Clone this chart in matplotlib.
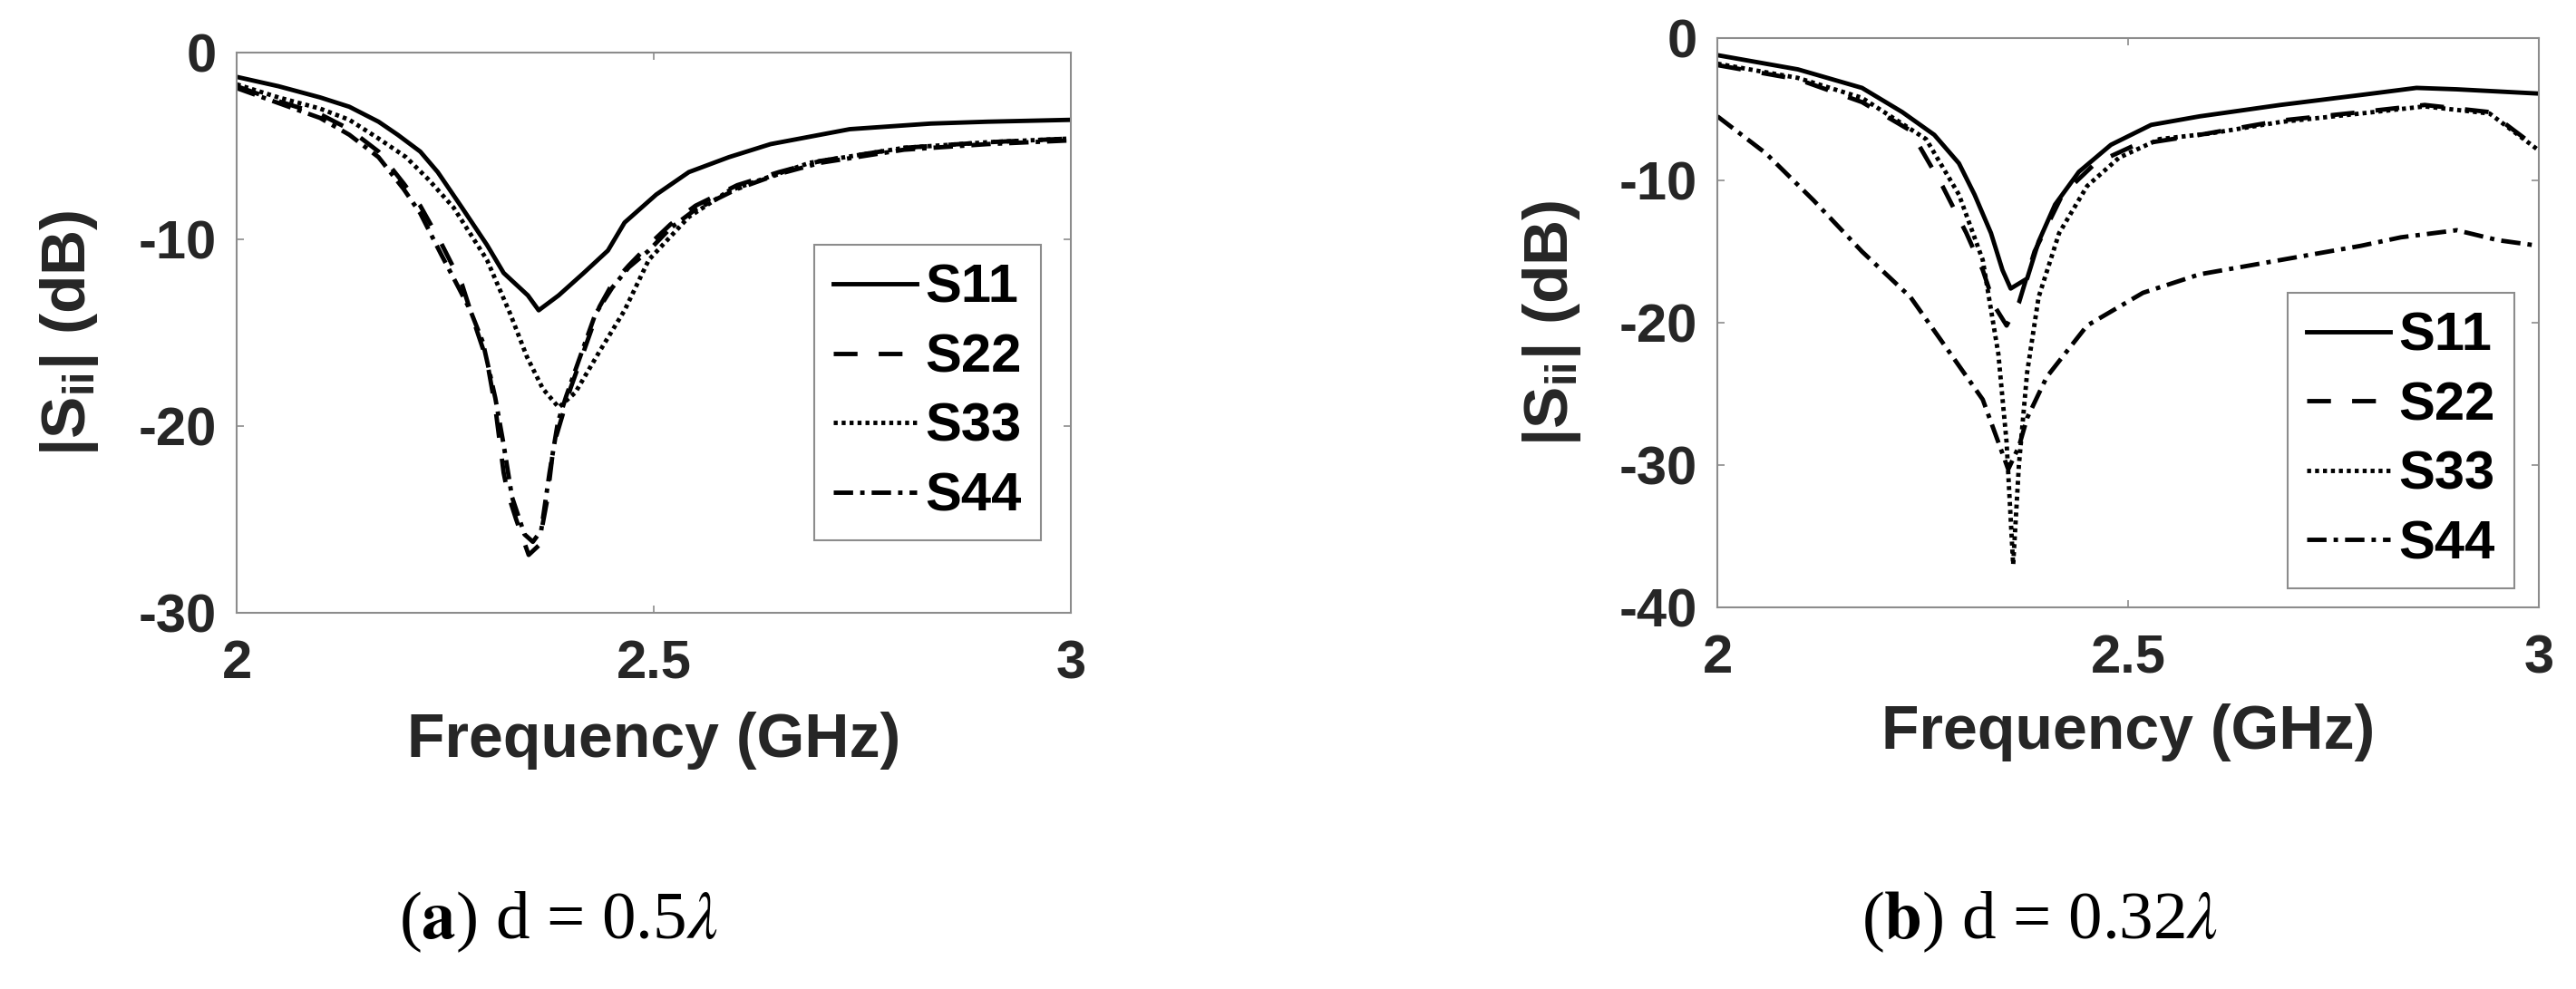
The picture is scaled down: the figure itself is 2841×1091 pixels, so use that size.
import matplotlib
matplotlib.use("Agg")
from matplotlib import pyplot as plt

plt.rcParams['font.family'] = ['Liberation Sans', 'DejaVu Sans']
plt.rcParams['mathtext.fontset'] = 'custom'
plt.rcParams['mathtext.rm'] = 'Liberation Sans:bold'
plt.rcParams['mathtext.bf'] = 'Liberation Sans:bold'
plt.rcParams['mathtext.it'] = 'Liberation Sans:bold'
plt.rcParams['mathtext.default'] = 'rm'

labels = ['S11', 'S22', 'S33', 'S44']

# (a) d = 0.5 lambda
fa_s11 = [2.0, 2.05, 2.1, 2.135, 2.17, 2.193, 2.22, 2.241, 2.27, 2.30, 2.32, 2.349, 2.362,
          2.386, 2.416, 2.445, 2.465, 2.503, 2.542, 2.59, 2.64, 2.735, 2.832, 2.9, 3.0]
a_s11 = [-1.3, -1.8, -2.4, -2.9, -3.7, -4.4, -5.3, -6.4, -8.3, -10.3, -11.8, -13.0, -13.8,
         -13.0, -11.8, -10.6, -9.1, -7.6, -6.4, -5.6, -4.9, -4.1, -3.8, -3.7, -3.6]

fa_s22 = [2.0, 2.05, 2.1, 2.135, 2.17, 2.2, 2.22, 2.245, 2.27, 2.285, 2.30, 2.31, 2.32, 2.325,
          2.335, 2.35, 2.362, 2.372, 2.38, 2.39, 2.40, 2.416, 2.435, 2.45, 2.47, 2.494, 2.52,
          2.55, 2.6, 2.65, 2.7, 2.8, 2.9, 3.0]
a_s22 = [-1.8, -2.6, -3.3, -4.1, -5.3, -7.0, -8.2, -10.2, -12.4, -14.5, -16.5, -19.0, -22.5, -23.6,
         -25.0, -26.9, -26.4, -24.0, -21.0, -19.5, -18.0, -16.0, -13.6, -12.4, -11.4, -10.3, -9.2,
         -8.2, -7.1, -6.4, -5.8, -5.1, -4.8, -4.6]

fa_s33 = [2.0, 2.05, 2.1, 2.135, 2.17, 2.203, 2.23, 2.26, 2.30, 2.328, 2.348, 2.367, 2.386,
          2.406, 2.435, 2.465, 2.494, 2.542, 2.59, 2.687, 2.8, 2.9, 3.0]
a_s33 = [-1.7, -2.4, -3.0, -3.6, -4.6, -5.6, -6.8, -8.3, -11.1, -14.0, -16.3, -18.0, -19.0,
         -18.2, -16.0, -13.8, -11.1, -8.8, -7.4, -5.9, -5.1, -4.8, -4.6]

fa_s44 = [2.0, 2.05, 2.1, 2.135, 2.17, 2.2, 2.22, 2.245, 2.265, 2.28, 2.295, 2.31, 2.32, 2.33,
          2.345, 2.355, 2.365, 2.375, 2.385, 2.395, 2.41, 2.43, 2.45, 2.47, 2.494, 2.52, 2.55,
          2.6, 2.65, 2.7, 2.8, 2.9, 3.0]
a_s44 = [-1.9, -2.7, -3.5, -4.4, -5.6, -7.3, -8.6, -10.8, -12.5, -13.8, -15.5, -18.5, -21.0, -23.8,
         -25.8, -26.2, -25.6, -22.5, -19.8, -18.4, -16.5, -14.0, -12.6, -11.5, -10.6, -9.4, -8.4,
         -7.3, -6.5, -5.9, -5.2, -4.9, -4.7]

# (b) d = 0.32 lambda
fb_s11 = [2.0, 2.098, 2.176, 2.225, 2.264, 2.294, 2.313, 2.333, 2.347, 2.357, 2.377, 2.391,
          2.411, 2.44, 2.479, 2.528, 2.587, 2.685, 2.783, 2.851, 2.9, 3.0]
b_s11 = [-1.2, -2.2, -3.5, -5.2, -6.8, -8.8, -11.0, -13.7, -16.3, -17.6, -16.9, -14.3,
         -11.7, -9.4, -7.5, -6.1, -5.5, -4.7, -4.0, -3.5, -3.6, -3.9]

fb_s22 = [2.0, 2.098, 2.176, 2.235, 2.274, 2.303, 2.323, 2.338, 2.352, 2.367, 2.386, 2.42,
          2.46, 2.509, 2.587, 2.685, 2.783, 2.861, 2.94, 3.0]
b_s22 = [-1.9, -2.9, -4.5, -6.5, -10.4, -13.7, -16.3, -18.9, -20.2, -18.6, -15.0, -11.0,
         -8.8, -7.5, -6.8, -5.8, -5.2, -4.7, -5.2, -7.8]

fb_s33 = [2.0, 2.098, 2.176, 2.254, 2.294, 2.323, 2.342, 2.352, 2.36, 2.367, 2.377, 2.391,
          2.416, 2.45, 2.489, 2.538, 2.6, 2.685, 2.783, 2.861, 2.94, 3.0]
b_s33 = [-1.8, -2.8, -4.2, -7.1, -11.0, -15.6, -22.2, -28.4, -37.0, -30.0, -23.5, -18.2,
         -13.7, -10.4, -8.4, -7.1, -6.7, -5.9, -5.3, -4.8, -5.3, -7.9]

fb_s44 = [2.0, 2.059, 2.117, 2.176, 2.235, 2.284, 2.323, 2.342, 2.354, 2.367, 2.377, 2.401,
          2.45, 2.518, 2.587, 2.685, 2.783, 2.832, 2.9, 2.95, 3.0]
b_s44 = [-5.5, -8.1, -11.4, -15.0, -18.2, -22.2, -25.4, -28.4, -30.3, -28.7, -26.7, -23.8,
         -20.2, -17.9, -16.6, -15.6, -14.6, -14.0, -13.5, -14.2, -14.6]

xticks = [2, 2.5, 3]
xticklabels = ['2', '2.5', '3']
yticks_a = [0, -10, -20, -30]
yticks_b = [0, -10, -20, -30, -40]
captions = [(r'(', 'a', r') d = 0.5'), (r'(', 'b', r') d = 0.32')]

styles = [dict(ls='-'),
          dict(ls=(0, (5.4, 4.8))),
          dict(ls=(0, (0.9, 0.9))),
          dict(ls=(0, (4.4, 1.6, 1.0, 1.6)))]

fig = plt.figure(figsize=(28.41, 10.91), dpi=100)
ax1 = fig.add_axes([0.0919, 0.3804, 0.3238, 0.5664])
ax2 = fig.add_axes([0.6667, 0.3859, 0.3189, 0.5756])

panels = [
    (ax1, [(fa_s11, a_s11), (fa_s22, a_s22), (fa_s33, a_s33), (fa_s44, a_s44)],
     yticks_a, (-30, 0), (1148 / 2841, 1 - 270 / 1091), -0.176),
    (ax2, [(fb_s11, b_s11), (fb_s22, b_s22), (fb_s33, b_s33), (fb_s44, b_s44)],
     yticks_b, (-40, 0), (2773 / 2841, 1 - 323 / 1091), -0.169),
]

for ax, series, yt, ylim, anchor, xl_y in panels:
    for (f, v), lab, st in zip(series, labels, styles):
        ax.plot(f, v, color='black', lw=3.5, label=lab, **st)
    ax.set_xlim(2, 3)
    ax.set_ylim(*ylim)
    ax.set_xticks(xticks)
    ax.set_xticklabels(xticklabels)
    ax.set_yticks(yt)
    ax.set_yticklabels([str(t) for t in yt])
    for s in ax.spines.values():
        s.set_color('#8c8c8c')
        s.set_linewidth(1.5)
    ax.tick_params(direction='in', length=6, width=1.2, color='#8c8c8c',
                   top=True, right=True, labelsize=43, labelcolor='#262626')
    ax.tick_params(axis='x', pad=21)
    ax.tick_params(axis='y', pad=16)
    for t in ax.get_xticklabels() + ax.get_yticklabels():
        t.set_fontweight('bold')
    ax.set_xlabel('Frequency (GHz)', fontsize=49, fontweight='bold', color='#262626')
    ax.xaxis.set_label_coords(0.5, xl_y)
    ax.set_ylabel(r'$|S_{ii}|$ (dB)', fontsize=50, fontweight='bold', color='#262626')
    ax.yaxis.set_label_coords(-0.163, 0.5)
    leg = ax.legend(loc='upper right', bbox_to_anchor=anchor, bbox_transform=fig.transFigure,
                    borderaxespad=0, fancybox=False, framealpha=1, edgecolor='#8c8c8c',
                    prop={'size': 43, 'weight': 'bold'}, handlelength=1.53,
                    handletextpad=0.17, labelspacing=0.36, borderpad=0.35)
    leg.get_frame().set_linewidth(1.5)

for (p1, bold, p2), cx in zip(captions, [616, 2250]):
    fig.text(cx / 2841, 1 - 1017 / 1091,
             p1 + r'$\mathbf{' + bold + r'}$' + p2 + r'$\mathit{\lambda}$',
             family='Liberation Serif', fontsize=54, math_fontfamily='stix',
             ha='center', va='center')

fig.savefig('out.png', dpi=100)
